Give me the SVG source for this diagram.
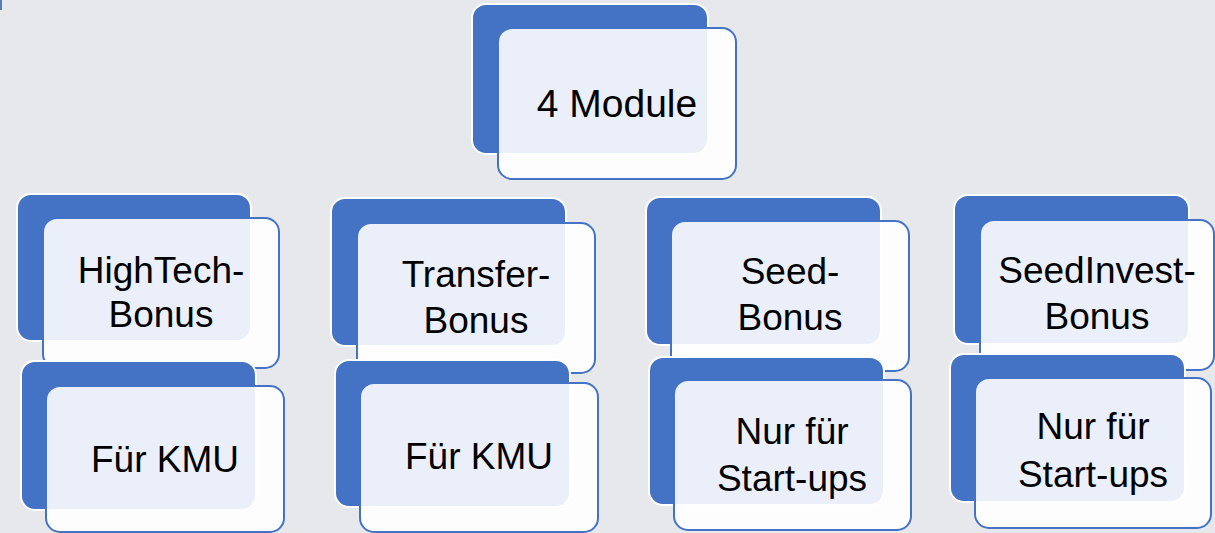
<svg xmlns="http://www.w3.org/2000/svg" width="1215" height="533" viewBox="0 0 1215 533">
<style>
.back{fill:#4472C4;stroke:#FFFFFF;stroke-width:2}
.front{fill:#FFFFFF;fill-opacity:0.89;stroke:#4472C4;stroke-width:2}
.t{font-family:"Liberation Sans",Arial,sans-serif;font-size:37px;fill:#000000;text-anchor:middle}
</style>
<rect x="0" y="0" width="1215" height="533" fill="#E7E8EC"/>
<rect x="0" y="0" width="2" height="10" fill="#5A7AB8"/>
<g id="connectors"></g>
<g id="node-module">
<rect class="back" x="472" y="4" width="236" height="150" rx="14"/>
<rect class="front" x="498" y="28" width="238" height="151" rx="14"/>
<text class="t" x="617" y="117" style="font-size:39px">4 Module</text>
</g>
<g id="node-hightech">
<rect class="back" x="17" y="194" width="234" height="147" rx="14"/>
<rect class="front" x="43" y="218" width="236" height="150" rx="14"/>
<text class="t" x="161" y="283">HighTech-</text>
<text class="t" x="161" y="327">Bonus</text>
</g>
<g id="node-hightech-kmu">
<rect class="back" x="21" y="361" width="235" height="149" rx="14"/>
<rect class="front" x="46" y="386" width="238" height="146" rx="14"/>
<text class="t" x="165" y="472">Für KMU</text>
</g>
<g id="node-transfer">
<rect class="back" x="331" y="198" width="235" height="148" rx="14"/>
<rect class="front" x="357" y="223" width="238" height="150" rx="14"/>
<text class="t" x="476" y="287">Transfer-</text>
<text class="t" x="476" y="333">Bonus</text>
</g>
<g id="node-transfer-kmu">
<rect class="back" x="335" y="360" width="235" height="147" rx="14"/>
<rect class="front" x="360" y="383" width="238" height="149" rx="14"/>
<text class="t" x="479" y="469">Für KMU</text>
</g>
<g id="node-seed">
<rect class="back" x="646" y="197" width="235" height="148" rx="14"/>
<rect class="front" x="671" y="221" width="238" height="150" rx="14"/>
<text class="t" x="790" y="284">Seed-</text>
<text class="t" x="790" y="330">Bonus</text>
</g>
<g id="node-seed-startups">
<rect class="back" x="649" y="357" width="235" height="148" rx="14"/>
<rect class="front" x="674" y="380" width="237" height="150" rx="14"/>
<text class="t" x="792" y="444">Nur für</text>
<text class="t" x="792" y="491">Start-ups</text>
</g>
<g id="node-seedinvest">
<rect class="back" x="954" y="195" width="235" height="149" rx="14"/>
<rect class="front" x="980" y="220" width="234" height="150" rx="14"/>
<text class="t" x="1097" y="283">SeedInvest-</text>
<text class="t" x="1097" y="329">Bonus</text>
</g>
<g id="node-seedinvest-startups">
<rect class="back" x="950" y="354" width="235" height="148" rx="14"/>
<rect class="front" x="975" y="378" width="236" height="150" rx="14"/>
<text class="t" x="1093" y="439">Nur für</text>
<text class="t" x="1093" y="487">Start-ups</text>
</g>
</svg>
